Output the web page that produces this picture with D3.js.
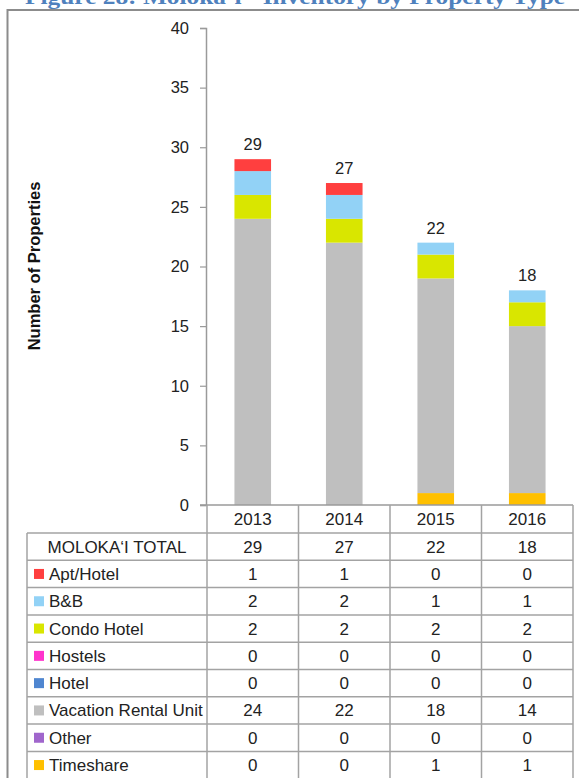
<!DOCTYPE html>
<html>
<head>
<meta charset="utf-8">
<script src="https://cdn.jsdelivr.net/npm/d3@7"></script>
<style>
  html, body { margin: 0; padding: 0; background: #fff; }
  svg { display: block; }
</style>
</head>
<body>
<div id="chart"></div>
<script>
// Data
const years = ['2013', '2014', '2015', '2016'];
const totals = [29, 27, 22, 18];
const categories = ['Apt/Hotel', 'B&B', 'Condo Hotel', 'Hostels', 'Hotel', 'Vacation Rental Unit', 'Other', 'Timeshare'];
const aptHotel = [1, 1, 0, 0];
const bnb = [2, 2, 1, 1];
const condoHotel = [2, 2, 2, 2];
const hostels = [0, 0, 0, 0];
const hotel = [0, 0, 0, 0];
const vacationRental = [24, 22, 18, 14];
const other = [0, 0, 0, 0];
const timeshare = [0, 0, 1, 1];
const yTicks = [0, 5, 10, 15, 20, 25, 30, 35, 40];

const seriesValues = [aptHotel, bnb, condoHotel, hostels, hotel, vacationRental, other, timeshare];
const colors = ['#ff3f3f', '#92d2f6', '#d9e600', '#ff33cc', '#4f86d0', '#bfbfbf', '#a066cc', '#ffc000'];

const width = 579, height = 778;
const font = 'Liberation Sans, Arial, sans-serif';

const svg = d3.select('#chart').append('svg')
    .attr('width', width)
    .attr('height', height);

// Title (cut off at the top, as in the source page)
svg.append('text')
    .attr('x', 25)
    .attr('y', 4)
    .attr('textLength', 540)
    .attr('lengthAdjust', 'spacingAndGlyphs')
    .style('font-family', 'Liberation Serif, Times New Roman, serif')
    .style('font-weight', 'bold')
    .style('font-size', '21px')
    .style('fill', '#4f81bd')
    .text('Figure 28: Moloka\u2018i - Inventory by Property Type');

// Frame
svg.append('rect')
    .attr('x', 7.5).attr('y', 10)
    .attr('width', 600).attr('height', 800)
    .attr('fill', 'none')
    .attr('stroke', '#8c8c8c')
    .attr('stroke-width', 2);

// Scales
const y = d3.scaleLinear().domain([0, 40]).range([505, 28]);
const x = d3.scaleBand().domain(years).range([207, 573]).paddingInner(0.6).paddingOuter(0.3);
const col = d3.scaleBand().domain(years).range([207, 573]);

// Y axis
const yAxis = svg.append('g')
    .attr('transform', 'translate(206,0)')
    .call(d3.axisLeft(y).tickValues(yTicks).tickSize(6).tickPadding(11));
yAxis.select('.domain').attr('stroke', '#9a9a9a').attr('stroke-width', 1.5);
yAxis.selectAll('.tick line').attr('stroke', '#9a9a9a').attr('stroke-width', 1.2);
yAxis.selectAll('.tick text')
    .style('font-family', font)
    .style('font-size', '16.5px')
    .style('fill', '#222');

svg.append('text')
    .attr('transform', 'translate(40,266) rotate(-90)')
    .attr('text-anchor', 'middle')
    .style('font-family', font)
    .style('font-weight', 'bold')
    .style('font-size', '16.5px')
    .style('fill', '#111')
    .text('Number of Properties');

// Stacked bars: bottom of the stack is the last category in the table
const rows = years.map((yr, i) => {
    const r = { year: yr };
    categories.forEach((c, j) => { r[c] = seriesValues[j][i]; });
    return r;
});
const stackKeys = categories.slice().reverse();
const stacked = d3.stack().keys(stackKeys)(rows);

svg.append('g')
    .selectAll('g')
    .data(stacked)
    .join('g')
    .attr('fill', d => colors[categories.indexOf(d.key)])
    .selectAll('rect')
    .data(d => d)
    .join('rect')
    .attr('x', d => x(d.data.year))
    .attr('width', x.bandwidth())
    .attr('y', d => y(d[1]))
    .attr('height', d => y(d[0]) - y(d[1]));

// Total labels above bars
svg.append('g')
    .selectAll('text')
    .data(years)
    .join('text')
    .attr('x', d => x(d) + x.bandwidth() / 2)
    .attr('y', (d, i) => y(totals[i]) - 9)
    .attr('text-anchor', 'middle')
    .style('font-family', font)
    .style('font-size', '16.5px')
    .style('fill', '#222')
    .text((d, i) => totals[i]);

// Data table
const tableTop = 505;
const headH = 28;
const rowH = 27.3;
const labelLeft = 27;
const tableRight = 573;
const lineColor = '#a3a3a3';
const table = svg.append('g');

const rowLabels = ['MOLOKA\u2018I TOTAL'].concat(categories);
const rowData = [totals].concat(seriesValues);
const bodyTop = tableTop + headH;
const bodyBottom = bodyTop + rowLabels.length * rowH;

// Horizontal lines
table.append('line')
    .attr('x1', 200).attr('x2', tableRight)
    .attr('y1', tableTop).attr('y2', tableTop)
    .attr('stroke', '#9a9a9a').attr('stroke-width', 1.5);
d3.range(rowLabels.length + 1).forEach(i => {
    const yy = bodyTop + i * rowH;
    table.append('line')
        .attr('x1', labelLeft).attr('x2', tableRight)
        .attr('y1', yy).attr('y2', yy)
        .attr('stroke', lineColor).attr('stroke-width', 1.5);
});

// Vertical lines
years.forEach(yr => {
    table.append('line')
        .attr('x1', col(yr)).attr('x2', col(yr))
        .attr('y1', tableTop).attr('y2', bodyBottom)
        .attr('stroke', lineColor).attr('stroke-width', 1.5);
});
table.append('line')
    .attr('x1', tableRight).attr('x2', tableRight)
    .attr('y1', tableTop).attr('y2', bodyBottom)
    .attr('stroke', lineColor).attr('stroke-width', 1.5);
table.append('line')
    .attr('x1', labelLeft).attr('x2', labelLeft)
    .attr('y1', bodyTop).attr('y2', bodyBottom)
    .attr('stroke', lineColor).attr('stroke-width', 1.5);

// Year header
table.selectAll('text.year')
    .data(years)
    .join('text')
    .attr('class', 'year')
    .attr('x', d => col(d) + col.bandwidth() / 2)
    .attr('y', tableTop + headH / 2 + 6)
    .attr('text-anchor', 'middle')
    .style('font-family', font)
    .style('font-size', '17px')
    .style('fill', '#222')
    .text(d => d);

// Row labels, swatches and values
rowLabels.forEach((lab, i) => {
    const cy = bodyTop + i * rowH + rowH / 2;
    if (i === 0) {
        table.append('text')
            .attr('x', (labelLeft + col(years[0])) / 2)
            .attr('y', cy + 6)
            .attr('text-anchor', 'middle')
            .style('font-family', font)
            .style('font-size', '17px')
            .style('fill', '#222')
            .text(lab);
    } else {
        table.append('rect')
            .attr('x', 34).attr('y', cy - 5)
            .attr('width', 10).attr('height', 10)
            .attr('fill', colors[i - 1]);
        table.append('text')
            .attr('x', 49)
            .attr('y', cy + 6)
            .style('font-family', font)
            .style('font-size', '17px')
            .style('fill', '#222')
            .text(lab);
    }
    years.forEach((yr, j) => {
        table.append('text')
            .attr('x', col(yr) + col.bandwidth() / 2)
            .attr('y', cy + 6)
            .attr('text-anchor', 'middle')
            .style('font-family', font)
            .style('font-size', '17px')
            .style('fill', '#222')
            .text(rowData[i][j]);
    });
});
</script>
</body>
</html>
